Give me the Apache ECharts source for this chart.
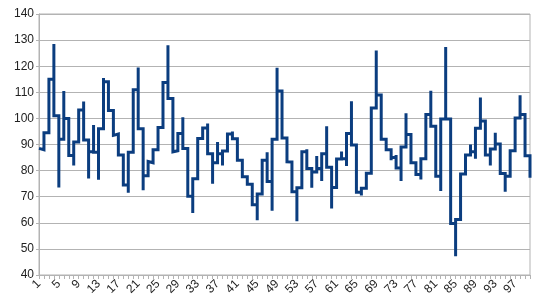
<!DOCTYPE html>
<html>
<head>
<meta charset="utf-8">
<script src="https://cdn.jsdelivr.net/npm/echarts@6/dist/echarts.min.js"></script>
<style>
html,body{margin:0;padding:0;background:#fff;}
#chart{width:540px;height:308px;}
</style>
</head>
<body>
<div id="chart"></div>
<script>
// Category labels 1..100
var categories = [];
for (var k = 1; k <= 100; k++) categories.push(String(k));

// Series values (one per category)
var values = [
  88.5, 87.5, 101.5, 128.5, 73.5, 110.5, 89.5, 82, 100, 106.5,
  77, 97.5, 76.5, 115.5, 112.5, 93.5, 94.5, 77.5, 71.5, 102.5,
  119.5, 72.5, 83.5, 82.5, 93.5, 99.5, 128, 87.2, 88, 100.4,
  76.6, 63.8, 90, 94.6, 98, 75, 91, 82, 93, 95,
  89.5, 78.5, 76.7, 72.9, 61, 81, 87, 64.6, 119.4, 101.6,
  83.4, 83.2, 60.6, 86.2, 88.2, 73.4, 85.6, 76, 97, 65.5,
  81.5, 87.3, 81.8, 106.6, 73, 70.5, 76, 82, 126, 92,
  92, 84, 86, 76, 102, 85.6, 80.4, 76.6, 92.4, 110.6,
  83.4, 72.2, 127.4, 72.2, 47.2, 75.4, 82, 90, 84.5, 108,
  90, 82, 94.5, 85.9, 71.9, 83.7, 91.5, 108.9, 94.1, 77.3
];

// Y axis ticks
var yMin = 40, yMax = 140, yStep = 10;

// "Center Y" step line: vertical through each value, horizontal at the mean of neighbours
var stepData = [];
for (var i = 0; i < values.length; i++) {
  stepData.push([i + 1, values[i]]);
  if (i < values.length - 1) {
    var mid = (values[i] + values[i + 1]) / 2;
    stepData.push([i + 1, mid]);
    stepData.push([i + 2, mid]);
  }
}

var chart = echarts.init(document.getElementById('chart'), null, {renderer: 'canvas'});
var font = 'Liberation Sans, Arial, sans-serif';
chart.setOption({
  animation: false,
  backgroundColor: '#ffffff',
  grid: {left: 39, right: 10, top: 14, bottom: 33, show: true, borderColor: '#b3b3b3', borderWidth: 1, backgroundColor: 'transparent'},
  xAxis: [
    {
      type: 'category',
      data: categories,
      boundaryGap: false,
      axisLine: {show: true, lineStyle: {color: '#b3b3b3', width: 1}},
      axisTick: {show: true, interval: 0, length: 4, lineStyle: {color: '#b3b3b3'}},
      axisLabel: {interval: 3, rotate: 45, margin: 7, fontSize: 12, color: '#222', fontFamily: font},
      splitLine: {show: false}
    },
    {
      type: 'value',
      min: 1,
      max: values.length,
      show: false
    }
  ],
  yAxis: {
    type: 'value',
    min: yMin,
    max: yMax,
    interval: yStep,
    axisLine: {show: true, lineStyle: {color: '#b3b3b3'}},
    axisTick: {show: true, length: 3, lineStyle: {color: '#b3b3b3'}},
    axisLabel: {fontSize: 12, color: '#222', margin: 5, fontFamily: font},
    splitLine: {show: true, lineStyle: {color: '#b3b3b3', width: 1}}
  },
  series: [{
    type: 'line',
    xAxisIndex: 1,
    data: stepData,
    showSymbol: false,
    symbol: 'none',
    lineStyle: {color: '#0b3d7f', width: 3, join: 'miter'},
    itemStyle: {color: '#0b3d7f'}
  }]
});
</script>
</body>
</html>
